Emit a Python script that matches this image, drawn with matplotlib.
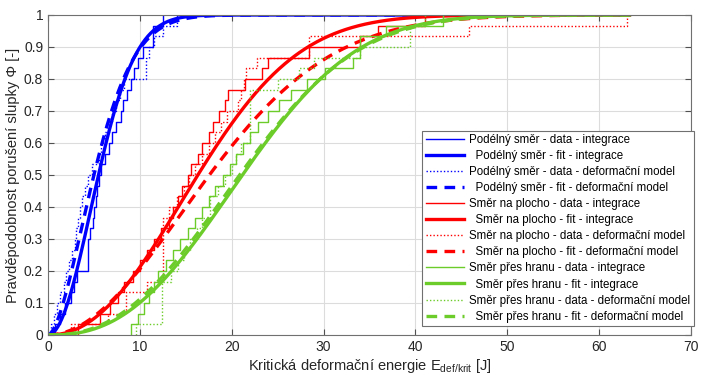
import numpy as np
import matplotlib
matplotlib.use("Agg")
import matplotlib.pyplot as plt

plt.rcParams['font.family'] = ['Liberation Sans', 'DejaVu Sans']
plt.rcParams['mathtext.fontset'] = 'custom'
plt.rcParams['mathtext.rm'] = 'Liberation Sans'
plt.rcParams['mathtext.it'] = 'Liberation Sans:italic'

# ---- data (samples, n = 30 each) ----
blue_int = [0.8, 1.3, 1.9, 2.5, 2.8, 3.15, 4.4, 4.4, 4.4, 4.6,
            4.9, 5.0, 5.2, 5.35, 5.5, 5.8, 6.2, 6.6, 7.0, 7.4,
            7.9, 8.2, 8.6, 9.0, 9.4, 9.8, 10.3, 11.4, 11.4, 12.5]
blue_def = [0.3, 0.6, 1.0, 1.3, 1.7, 2.0, 2.3, 2.6, 2.9, 3.1,
            3.3, 3.5, 3.7, 4.0, 4.3, 4.8, 5.5, 5.8, 6.2, 6.6,
            7.0, 7.4, 7.8, 8.3, 10.7, 10.7, 11.0, 11.5, 12.5, 14.0]
red_int = [3.3, 5.7, 6.7, 7.6, 8.3, 9.3, 10.0, 10.8, 11.5, 12.3,
           13.2, 13.6, 14.2, 14.6, 15.2, 15.6, 16.3, 16.8, 17.5, 18.0,
           18.6, 19.3, 19.6, 21.5, 23.3, 24.0, 28.4, 34.0, 35.9, 41.0]
red_def = [2.5, 6.5, 8.5, 8.5, 10.8, 12.5, 12.5, 12.5, 12.5, 12.5,
           12.5, 13.2, 14.0, 14.8, 15.3, 16.0, 16.8, 17.5, 18.2, 18.8,
           19.5, 20.7, 21.0, 21.3, 21.6, 22.7, 28.4, 28.4, 45.8, 63.0]
green_int = [9.0, 9.8, 10.5, 11.0, 11.5, 12.0, 12.8, 13.6, 14.4, 15.2,
             16.0, 16.8, 17.5, 18.2, 19.0, 19.8, 20.5, 21.2, 22.0, 22.9,
             24.0, 25.2, 26.5, 28.2, 30.2, 33.2, 34.0, 34.0, 36.8, 43.0]
green_def = [9.6, 12.4, 12.4, 12.4, 12.4, 13.4, 14.2, 14.8, 15.5, 16.2,
             16.8, 17.6, 17.6, 18.5, 19.3, 20.0, 20.5, 21.0, 22.0, 22.0,
             22.0, 22.0, 22.0, 25.0, 27.3, 29.0, 34.0, 39.4, 39.4, 41.0]

# Weibull fit parameters (shape k, scale lambda)
fit_shape = {'blue_int': 2.0, 'blue_def': 1.7, 'red_int': 2.18,
             'red_def': 1.95, 'green_int': 2.5, 'green_def': 2.4}
fit_scale = {'blue_int': 6.6, 'blue_def': 6.2, 'red_int': 19.3,
             'red_def': 21.2, 'green_int': 24.5, 'green_def': 24.3}
fit_x_max = 63.3

labels = ['Podélný směr - data - integrace',
          '  Podélný směr - fit - integrace',
          'Podélný směr - data - deformační model',
          '  Podélný směr - fit - deformační model',
          'Směr na plocho - data - integrace',
          '  Směr na plocho - fit - integrace',
          'Směr na plocho - data - deformační model',
          '  Směr na plocho - fit - deformační model',
          'Směr přes hranu - data - integrace',
          '  Směr přes hranu - fit - integrace',
          'Směr přes hranu - data - deformační model',
          '  Směr přes hranu - fit - deformační model']

colors = {'blue': '#0000FF', 'red': '#FF0000', 'green': '#6CCC2A'}
series = [('blue', 'int', blue_int), ('blue', 'def', blue_def),
          ('red', 'int', red_int), ('red', 'def', red_def),
          ('green', 'int', green_int), ('green', 'def', green_def)]

fig = plt.figure(figsize=(7.01, 3.75), dpi=100)
ax = fig.add_axes([0.0685, 0.1067, 0.9172, 0.8533])

xf = np.linspace(0, fit_x_max, 600)
handles = []
for name, kind, samples in series:
    c = colors[name]
    s = np.sort(np.asarray(samples, dtype=float))
    n = len(s)
    xs = np.concatenate([[s[0]], s])
    ys = np.concatenate([[0.0], np.arange(1, n + 1) / n])
    key = f'{name}_{kind}'
    k = fit_shape[key]
    lam = fit_scale[key]
    yf = 1 - np.exp(-(xf / lam) ** k)
    if kind == 'int':
        h1, = ax.step(xs, ys, where='post', color=c, lw=1.0)
        h2, = ax.plot(xf, yf, color=c, lw=2.4)
    else:
        h1, = ax.step(xs, ys, where='post', color=c, lw=1.0, ls=(0, (1, 1.5)))
        h2, = ax.plot(xf, yf, color=c, lw=2.4, ls=(0, (3.2, 2.2)))
    handles += [h1, h2]

ax.set_xlim(0, 70)
ax.set_ylim(0, 1)
ax.set_xticks(np.arange(0, 71, 10))
ax.set_yticks(np.arange(0, 1.01, 0.1))
ax.set_yticklabels(['0', '0.1', '0.2', '0.3', '0.4', '0.5', '0.6', '0.7', '0.8', '0.9', '1'])
ax.grid(True, color='#dcdcdc', lw=0.8)
ax.set_axisbelow(True)
for sp in ax.spines.values():
    sp.set_color('#707070')
    sp.set_linewidth(0.8)
ax.tick_params(direction='in', length=4, width=0.8, color='#505050',
               labelcolor='#262626', labelsize=10, top=True, right=True)
ax.set_xlabel(r'Kritická deformační energie E$_{\mathregular{def/krit}}$ [J]',
              fontsize=10.5, color='#262626', labelpad=2)
ax.set_ylabel('Pravděpodobnost porušení slupky Φ [-]', fontsize=10.5,
              color='#262626', labelpad=2.5)

leg = ax.legend(handles, labels, loc='lower right', bbox_to_anchor=(1.004, 0.028),
                fontsize=8.3, handlelength=3.3, labelspacing=0.35, handletextpad=0.45,
                borderpad=0.3, borderaxespad=0.0, frameon=True, fancybox=False)
leg.get_frame().set_edgecolor('#707070')
leg.get_frame().set_linewidth(0.8)
leg.get_frame().set_alpha(1.0)

fig.savefig('out.png', dpi=100)
